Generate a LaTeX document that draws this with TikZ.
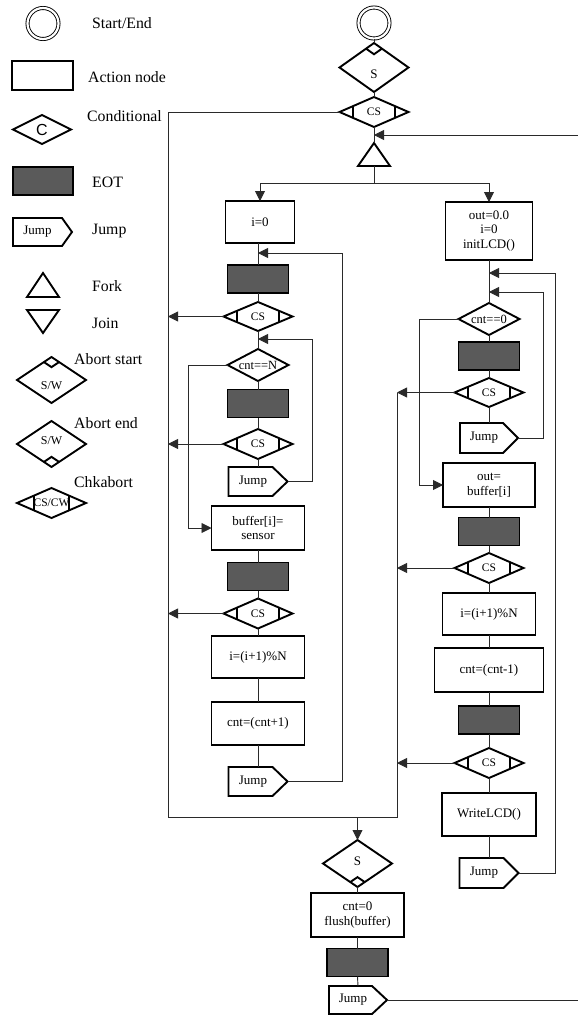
\documentclass[tikz,border=0pt]{standalone}
\usepackage{fontspec}
\setmainfont{Liberation Serif}
\newfontfamily\sansC{Liberation Sans}
\usetikzlibrary{arrows.meta,calc}
\definecolor{eotgray}{HTML}{5A5A5A}
\definecolor{lncol}{HTML}{2A2A2A}
\newcommand\fsz[2]{\fontsize{#1pt}{#2pt}\selectfont}
\newcommand\fcDia[1]{\draw[shp] (#1.north) -- (#1.east) -- (#1.south) -- (#1.west) -- cycle;}
\newcommand\fcChk[2][0.4]{\fcDia{#2}\draw[shp] ($(#2.west)!#1!(#2.north)$) -- ($(#2.west)!#1!(#2.south)$) ($(#2.east)!#1!(#2.north)$) -- ($(#2.east)!#1!(#2.south)$);}
\newcommand\fcNotchT[2][0.23]{\draw[shp] ($(#2.north)!#1!(#2.west)$) -- ($(#2.north)!#1!(#2.south)$) -- ($(#2.north)!#1!(#2.east)$);}
\newcommand\fcNotchB[2][0.23]{\draw[shp] ($(#2.south)!#1!(#2.west)$) -- ($(#2.south)!#1!(#2.north)$) -- ($(#2.south)!#1!(#2.east)$);}
\newcommand\fcJmp[2][15pt]{\draw[shp] (#2.north west) -- ([xshift=-#1]#2.north east) -- (#2.east) -- ([xshift=-#1]#2.south east) -- (#2.south west) -- cycle;}
\tikzset{
 shp/.style={draw=black, line width=1.9pt, line join=miter},
 con/.style={draw=lncol, line width=0.9pt},
 arr/.style={con, -{Triangle[length=10pt,width=10pt]}},
 plainnode/.style={rectangle, inner sep=0pt, outer sep=0pt, align=center},
 box/.style={plainnode, shp, font=\fsz{13}{14.8}},
 eotbox/.style={plainnode, shp, fill=eotgray, minimum width=61pt, minimum height=28pt},
 dia/.style={plainnode, font=\fsz{11.5}{13}, minimum width=69pt, minimum height=30pt},
 jmp/.style={plainnode, font=\fsz{13}{15}, minimum width=59pt, minimum height=29pt},
 lbl/.style={inner sep=0pt, anchor=base west, font=\fsz{15.8}{18}},
 startend/.style={circle, draw=black, double, double distance=2.2pt, line width=0.9pt, minimum size=31pt, inner sep=0pt},
}
\begin{document}
\begin{tikzpicture}[x=1pt,y=-1pt]
\useasboundingbox[fill=white] (0,0) rectangle (578,1015);
% ---------------- legend ----------------
\node[startend] (lgStart) at (43,23.5) {};
\node[lbl] (lgStartT) at (92,28) {Start/End};
\node[box, minimum width=61pt, minimum height=29pt] (lgAct) at (42.5,75.5) {};
\node[lbl] (lgActT) at (88,82.5) {Action node};
\node[plainnode, minimum width=58pt, minimum height=29pt, font=\sansC\fsz{16}{18}] (lgCond) at (42,129.5) {C};
\fcDia{lgCond}
\node[lbl] (lgCondT) at (87,121) {Conditional};
\node[eotbox, minimum width=60pt] (lgEOT) at (43,181) {};
\node[lbl] (lgEOTT) at (92,187) {EOT};
\node[jmp, minimum height=28pt] (lgJump) at (42.5,232) {Jump\hspace*{10pt}};
\fcJmp[10pt]{lgJump}
\node[lbl] (lgJumpT) at (92,234) {Jump};
\node[plainnode, minimum width=32pt, minimum height=24pt] (lgFork) at (43,285) {};
\draw[shp] (lgFork.south west) -- (lgFork.north) -- (lgFork.south east) -- cycle;
\node[lbl] (lgForkT) at (92,291.5) {Fork};
\node[plainnode, minimum width=32pt, minimum height=23pt] (lgJoin) at (43,321.5) {};
\draw[shp] (lgJoin.north west) -- (lgJoin.north east) -- (lgJoin.south) -- cycle;
\node[lbl] (lgJoinT) at (92,328) {Join};
\node[dia, minimum height=46pt] (lgAbS) at (51.5,380) {};
\fcDia{lgAbS}\fcNotchT[0.22]{lgAbS}
\node[inner sep=0pt, font=\fsz{12}{14}] (lgAbSW) at (51.5,386) {S/W};
\node[lbl] (lgAbST) at (74,364.5) {Abort start};
\node[dia, minimum height=46pt] (lgAbE) at (51.5,444) {};
\fcDia{lgAbE}\fcNotchB[0.22]{lgAbE}
\node[inner sep=0pt, font=\fsz{12}{14}] (lgAbEW) at (51.5,441) {S/W};
\node[lbl] (lgAbET) at (74,428.5) {Abort end};
\node[dia] (lgChk) at (51.5,503) {CS/CW};
\fcChk[0.48]{lgChk}
\node[lbl] (lgChkT) at (74,487) {Chkabort};
% ---------------- top ----------------
\node[startend] (st) at (374,23) {};
\node[dia, minimum height=49pt] (sTop) at (374,67.5) {};
\fcDia{sTop}\fcNotchT{sTop}
\node[inner sep=0pt, font=\fsz{13}{15}] (sTopT) at (374,74) {S};
\node[dia] (csTop) at (374,112) {CS};
\fcChk{csTop}
\node[plainnode, minimum width=32pt, minimum height=23pt] (fork) at (374,154.5) {};
\draw[shp] (fork.south west) -- (fork.north) -- (fork.south east) -- cycle;
% ---------------- left column ----------------
\node[box, minimum width=69pt, minimum height=42pt] (i0) at (260,222) {i=0};
\node[eotbox] (e1) at (258,279) {};
\node[dia, minimum height=29pt] (c1) at (258,316.5) {CS};
\fcChk{c1}
\node[dia, minimum width=61pt, minimum height=32pt, font=\fsz{12.5}{14}] (d1) at (258,365) {cnt==N};
\fcDia{d1}
\node[eotbox] (e2) at (258,403.5) {};
\node[dia] (c2) at (258,444) {CS};
\fcChk{c2}
\node[jmp] (j1) at (258,481.5) {Jump\hspace*{10pt}};
\fcJmp{j1}
\node[box, minimum width=93pt, minimum height=44pt] (b1) at (258,528) {buffer[i]=\\sensor};
\node[eotbox] (e3) at (258,576.5) {};
\node[dia] (c3) at (258,613.5) {CS};
\fcChk{c3}
\node[box, minimum width=93pt, minimum height=42pt] (b2) at (258,657) {i=(i+1)\%N};
\node[box, minimum width=93pt, minimum height=43pt] (b3) at (258,723.5) {cnt=(cnt+1)};
\node[jmp] (j2) at (258,781.5) {Jump\hspace*{10pt}};
\fcJmp{j2}
% ---------------- right column ----------------
\node[box, minimum width=87pt, minimum height=58pt] (r0) at (489,231) {out=0.0\\i=0\\initLCD()};
\node[dia, minimum width=61pt, minimum height=32pt, font=\fsz{12.5}{14}] (d2) at (489,319) {cnt==0};
\fcDia{d2}
\node[eotbox] (e4) at (489,356) {};
\node[dia, minimum height=29pt] (c4) at (489,392.5) {CS};
\fcChk{c4}
\node[jmp, minimum width=58pt, minimum height=30pt] (j3) at (489,438) {Jump\hspace*{10pt}};
\fcJmp{j3}
\node[box, minimum width=92pt, minimum height=44pt] (b4) at (489,485) {out=\\buffer[i]};
\node[eotbox] (e5) at (489,531.5) {};
\node[dia] (c5) at (489,568) {CS};
\fcChk{c5}
\node[box, minimum width=93pt, minimum height=42pt] (b5) at (489,614) {i=(i+1)\%N};
\node[box, minimum width=109pt, minimum height=44pt] (b6) at (489,670) {cnt=(cnt-1)};
\node[eotbox] (e6) at (489,720) {};
\node[dia] (c6) at (489,763) {CS};
\fcChk{c6}
\node[box, minimum width=94pt, minimum height=43pt] (b7) at (489,814.5) {WriteLCD()};
\node[jmp, minimum height=30pt] (j4) at (489,873) {Jump\hspace*{10pt}};
\fcJmp{j4}
% ---------------- bottom ----------------
\node[dia, minimum height=47pt] (sBot) at (357.5,863.5) {};
\fcDia{sBot}\fcNotchB[0.21]{sBot}
\node[inner sep=0pt, font=\fsz{13}{15}] (sBotT) at (357.5,861) {S};
\node[box, minimum width=93pt, minimum height=44pt] (b8) at (357.5,915) {cnt=0\\flush(buffer)};
\node[eotbox] (e7) at (357.5,962.5) {};
\node[jmp, minimum width=58pt, minimum height=28pt] (j5) at (358,1000) {Jump\hspace*{10pt}};
\fcJmp{j5}
% ---------------- connectors ----------------
\draw[con] (st.south) -- (sTop.north);
\draw[con] (sTop.south) -- (csTop.north);
\draw[con] (csTop.south) -- (fork.north);
\coordinate (split) at (374,183);
\draw[con] (fork.south) -- (split);
\draw[arr] (split) -| (i0.north);
\draw[arr] (split) -| (r0.north);
\coordinate (rTop) at (578,135);
\draw[arr] (rTop) -- (rTop -| fork.north);
\draw[con] (i0.south -| e1.north) -- (e1.north);
\foreach \a/\b in {e1/c1, c1/d1, d1/e2, e2/c2, c2/j1, b1/e3, e3/c3, c3/b2, b2/b3, b3/j2,
  r0/d2, d2/e4, e4/c4, c4/j3, b4/e5, e5/c5, c5/b5, b5/b6, b6/e6, e6/c6, c6/b7, b7/j4,
  sBot/b8, b8/e7, e7/j5}
  {\draw[con] (\a.south) -- (\b.north);}
% loops left
\coordinate (aL1) at (258,253);
\coordinate (aL2) at (258,339);
\draw[arr] (j2.east) -- ++(55,0) |- (aL1);
\draw[arr] (j1.east) -- ++(25,0) |- (aL2);
\draw[arr] (d1.west) -- ++(-39,0) |- (b1.west);
% loops right
\coordinate (aR1) at (489,273);
\coordinate (aR2) at (489,292);
\draw[arr] (j4.east) -- ++(37,0) |- (aR1);
\draw[arr] (j3.east) -- ++(25,0) |- (aR2);
\draw[arr] (d2.west) -- ++(-39,0) |- (b4.west);
% abort paths
\coordinate (oBL) at (168,817);
\coordinate (oR) at (397,392.5);
\draw[con] (csTop.west) -| (oBL) -| (oR);
\foreach \n in {c1,c2,c3} {\draw[arr] (\n.west) -- (\n.west -| oBL);}
\foreach \n in {c4,c5,c6} {\draw[arr] (\n.west) -- (\n.west -| oR);}
\draw[arr] (sBot.north |- oBL) -- (sBot.north);
\draw[con] (j5.east) -- (j5.east -| rTop);
\end{tikzpicture}
\end{document}
